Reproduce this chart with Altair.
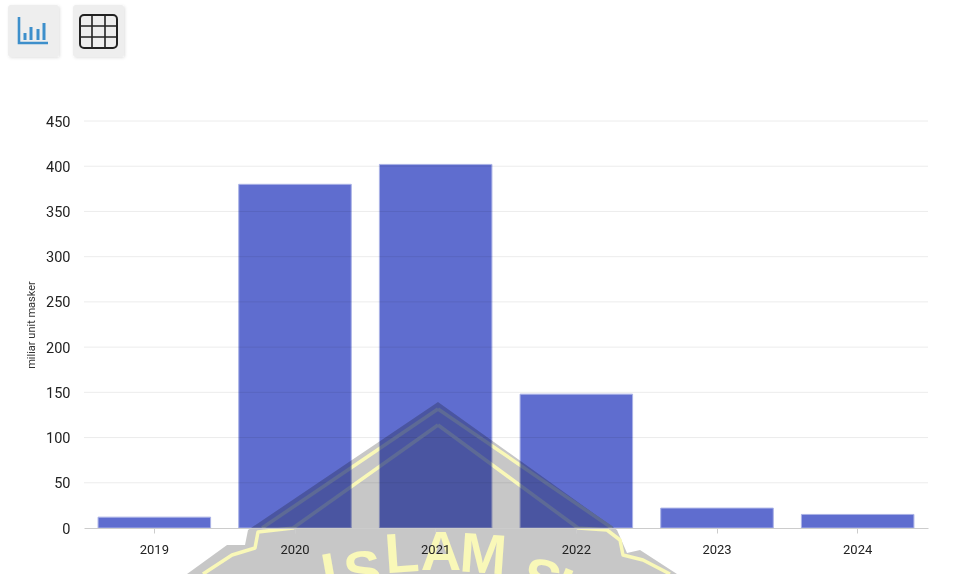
import base64
import altair as alt
import pandas as pd

years = ["2019", "2020", "2021", "2022", "2023", "2024"]
units = [12, 380, 402, 148, 22, 15]
y_ticks = [0, 50, 100, 150, 200, 250, 300, 350, 400, 450]

PLOT_W, PLOT_H = 844, 407
LEFT, TOP = 84, 121

# Crest behind the bars, expressed in page pixels.
crest_svg = """<svg xmlns='http://www.w3.org/2000/svg' width='958' height='574' viewBox='0 0 958 574'>
<path d='M438 402 L248 530 L245 545 L227 545 L187 574 L677 574 L640 550 L627 553 L617 530 Z' fill='#000' fill-opacity='0.22'/>
<g fill='none' stroke='#f9f8b8' stroke-width='3.5' stroke-linejoin='round'>
<path d='M438 409 L262 528'/>
<path d='M438 409 L612 528'/>
<path d='M438 425 L293 528 L258 532 L255 548 L232 555 L203 574'/>
<path d='M438 425 L578 528 L607 530 L620 540 L623 555 L643 560 L670 574'/>
</g>
</svg>"""

# Toolbar buttons above the chart.
button_svg = """<svg xmlns='http://www.w3.org/2000/svg' width='958' height='70' viewBox='0 0 958 70'>
<defs><filter id='s' x='-20%' y='-20%' width='140%' height='140%'><feDropShadow dx='1' dy='1' stdDeviation='1.5' flood-color='#000' flood-opacity='0.12'/></filter></defs>
<rect x='8' y='5' width='51' height='52' rx='3' fill='#eeeeee' filter='url(#s)'/>
<rect x='73' y='5' width='51' height='52' rx='3' fill='#eeeeee' filter='url(#s)'/>
<path d='M19 17 V43 H48' fill='none' stroke='#3d8fcb' stroke-width='2.6'/>
<path d='M25 33 V40 M31 27 V40 M38 29 V40 M44 23 V40' fill='none' stroke='#3d8fcb' stroke-width='3'/>
<rect x='80' y='15' width='37' height='33' rx='4' fill='none' stroke='#222' stroke-width='2'/>
<path d='M92 15 V48 M105 15 V48 M80 26 H117 M80 37 H117' fill='none' stroke='#222' stroke-width='1.6'/>
</svg>"""


def data_url(svg):
    return "data:image/svg+xml;base64," + base64.b64encode(svg.encode()).decode()


def overlay_image(svg, w, h):
    return alt.Chart(pd.DataFrame({"u": [data_url(svg)]})).mark_image(
        align="left", baseline="top", clip=False, width=w, height=h
    ).encode(
        url="u:N",
        x=alt.value(-LEFT),
        y=alt.value(-TOP),
    )


y_scale = alt.Scale(domain=[0, 450], nice=False)
y_axis = alt.Axis(
    title="miliar unit masker", titleFont="Roboto", titleFontSize=11,
    titleFontWeight="normal", titleColor="#333333", titlePadding=9,
    values=y_ticks, labelFont="Roboto", labelFontSize=14.5, labelColor="#222222",
    labelPadding=14, labelOffset=1, domain=False, ticks=False, grid=False, zindex=1,
)

grid = alt.Chart(pd.DataFrame({"v": y_ticks[1:]})).mark_rule(
    color="#ececec", strokeWidth=1
).encode(y=alt.Y("v:Q", scale=y_scale, axis=y_axis))

bars = alt.Chart(pd.DataFrame({"year": years, "units": units})).mark_bar(
    color="#5f6dcf", stroke="#aab2e6", strokeWidth=1, blend="multiply"
).encode(
    x=alt.X(
        "year:N",
        sort=years,
        scale=alt.Scale(paddingInner=0.2, paddingOuter=0.1),
        axis=alt.Axis(
            title=None, labelAngle=0, labelFont="Roboto", labelFontSize=13,
            labelColor="#222222", labelPadding=10, tickSize=5, tickColor="#cccccc",
            domainColor="#cccccc", grid=False, zindex=1,
        ),
    ),
    y=alt.Y("units:Q", scale=y_scale, axis=y_axis),
)

# Lettering of the crest, cut off by the page edge.
crest_letters = ["I", "S", "L", "A", "M", "S", "U"]
crest_x = [333, 365, 403, 441, 482, 537, 567]
crest_y = [592, 590, 572, 570, 573, 598, 610]
crest_rot = [350, 353, 356, 0, 4, 14, 22]
letters = alt.Chart(
    pd.DataFrame({"t": crest_letters, "px": [x - LEFT for x in crest_x],
                  "py": [y - TOP for y in crest_y], "r": crest_rot})
).mark_text(
    font="Liberation Sans", fontSize=56, fontWeight="bold", color="#f9f8b8",
    baseline="alphabetic", align="center", clip=False,
).encode(
    text="t:N",
    x=alt.X("px:Q", scale=None, axis=None),
    y=alt.Y("py:Q", scale=None, axis=None),
    angle=alt.Angle("r:Q", scale=alt.Scale(domain=[0, 360], range=[0, 360])),
)

chart = alt.layer(
    grid,
    overlay_image(crest_svg, 958, 574),
    letters,
    bars,
    overlay_image(button_svg, 958, 70),
).properties(
    width=PLOT_W,
    height=PLOT_H,
    padding={"left": LEFT, "top": TOP, "right": 30, "bottom": 46},
    autosize=alt.AutoSizeParams(type="none"),
    background="#ffffff",
).configure_view(stroke=None)

chart.save("out.html", embed_options={"renderer": "svg", "actions": False})
